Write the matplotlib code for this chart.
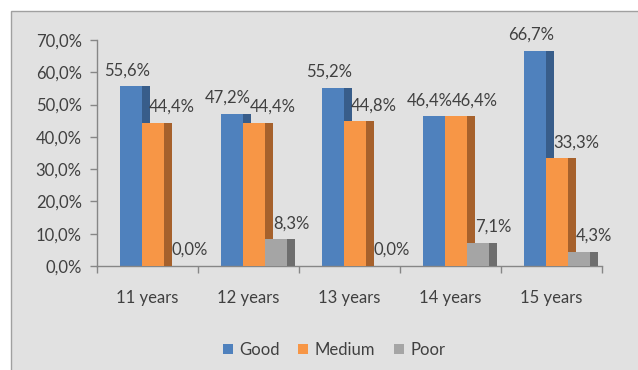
import matplotlib
matplotlib.use("Agg")
import matplotlib.pyplot as plt
from matplotlib.patches import Rectangle, Patch

categories = ["11 years", "12 years", "13 years", "14 years", "15 years"]
series_names = ["Good", "Medium", "Poor"]
good = [55.6, 47.2, 55.2, 46.4, 66.7]
medium = [44.4, 44.4, 44.8, 46.4, 33.3]
poor = [0.0, 8.3, 0.0, 7.1, 4.3]

front_colors = ["#4f81bd", "#f79646", "#a5a5a5"]
side_colors = ["#385d8a", "#a6612c", "#6e6e6e"]
label_dx = [-4, 19, 15]   # pixel offsets of value labels per series
text_color = "#404040"
axis_color = "#868686"
fs = 12

plt.rcParams["font.family"] = ["Lato", "DejaVu Sans"]

W, H = 638, 370
fig = plt.figure(figsize=(W / 100, H / 100), dpi=100)
fig.patch.set_facecolor("white")
# chart area panel with a grey frame
fig.patches.append(Rectangle((11 / W, -0.1), 1.1, (H - 11) / H + 0.1,
                             transform=fig.transFigure, facecolor="#e1e1e1",
                             edgecolor="#a0a0a0", linewidth=1.0, zorder=-5))

ax = fig.add_axes([97 / W, (H - 266) / H, (602 - 97) / W, (266 - 40) / H])
ax.set_facecolor("none")

off, fw, sw = 0.228, 0.218, 0.079
for k, vals in enumerate([good, medium, poor]):
    xs = [i + off + k * fw for i in range(len(categories))]
    ax.bar(xs, vals, width=fw, align="edge", color=front_colors[k],
           zorder=2 + 2 * k, linewidth=0)
    ax.bar([x + fw for x in xs], vals, width=sw, align="edge",
           color=side_colors[k], zorder=3 + 2 * k, linewidth=0)
    for x, v in zip(xs, vals):
        ax.annotate(f"{v:.1f}%".replace(".", ","), (x + fw / 2, v),
                    xytext=(label_dx[k], 16), textcoords="offset pixels",
                    ha="center", va="center", fontsize=fs,
                    color=text_color, zorder=10)

ax.set_xlim(0, len(categories))
ax.set_ylim(0, 70)
ax.set_yticks(range(0, 71, 10))
ax.set_yticklabels([f"{t:.1f}%".replace(".", ",") for t in range(0, 71, 10)])
ax.set_xticks(range(len(categories) + 1))
ax.set_xticklabels([])
ax.set_xticks([i + 0.5 for i in range(len(categories))], minor=True)
ax.set_xticklabels(categories, minor=True)
ax.tick_params(axis="x", which="minor", length=0, pad=17)
ax.tick_params(axis="both", which="major", length=5, width=1,
               color=axis_color, direction="out")
ax.tick_params(axis="both", which="both", labelsize=fs, labelcolor=text_color)
ax.tick_params(axis="y", pad=6)
for side in ("top", "right"):
    ax.spines[side].set_visible(False)
for side in ("left", "bottom"):
    ax.spines[side].set_color(axis_color)
    ax.spines[side].set_linewidth(1)

handles = [Patch(facecolor=c, edgecolor="none") for c in front_colors]
fig.legend(handles, series_names, loc="center", bbox_to_anchor=(334 / W, 20 / H),
           ncol=3, frameon=False, fontsize=fs, handlelength=0.6,
           handleheight=0.6, handletextpad=0.4, columnspacing=1.1,
           labelcolor=text_color)

fig.savefig("out.png", dpi=100, facecolor=fig.get_facecolor())
